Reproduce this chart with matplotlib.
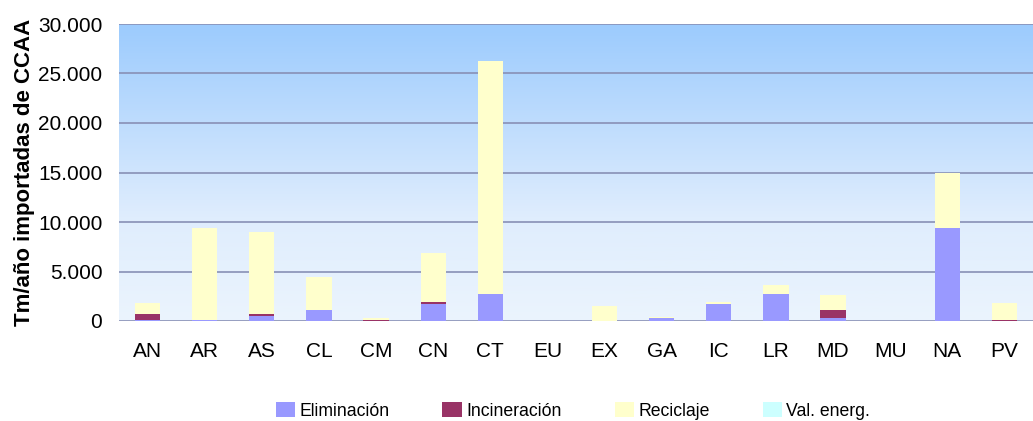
import matplotlib
matplotlib.use("Agg")
import matplotlib.pyplot as plt
import numpy as np
from matplotlib.colors import LinearSegmentedColormap
from matplotlib.ticker import FuncFormatter

categories = ["AN", "AR", "AS", "CL", "CM", "CN", "CT", "EU", "EX", "GA", "IC", "LR", "MD", "MU", "NA", "PV"]
eliminacion = [100, 150, 500, 1100, 0, 1750, 2750, 0, 0, 300, 1750, 2750, 300, 0, 9400, 0]
incineracion = [600, 0, 200, 0, 150, 170, 0, 0, 0, 0, 0, 0, 800, 0, 0, 150]
reciclaje = [1100, 9250, 8300, 3330, 200, 4930, 23550, 0, 1500, 150, 200, 880, 1520, 0, 5500, 1650]
val_energ = [0] * 16

series = [("Eliminación", eliminacion, "#9999ff"),
          ("Incineración", incineracion, "#993366"),
          ("Reciclaje", reciclaje, "#ffffcc"),
          ("Val. energ.", val_energ, "#ccffff")]

plt.rcParams["font.family"] = ["Liberation Sans", "DejaVu Sans"]

fig = plt.figure(figsize=(10.33, 4.21), dpi=100)
ax = fig.add_axes([119 / 1033, 100 / 421, (1033 - 119) / 1033, (321 - 24) / 421])

# gradient background
cmap = LinearSegmentedColormap.from_list(
    "bg", [(0.0, "#ebf4fd"), (0.35, "#dfedfd"), (1.0, "#9ccbfe")])
grad = np.linspace(0, 1, 256).reshape(-1, 1)
ax.imshow(grad, extent=[0, 1, 0, 1], transform=ax.transAxes, cmap=cmap,
          aspect="auto", origin="lower", zorder=0)

x = np.arange(len(categories))
bottom = np.zeros(len(categories))
handles = []
for name, vals, col in series:
    vals = np.array(vals, dtype=float)
    b = ax.bar(x, vals, width=0.44, bottom=bottom, color=col, label=name, zorder=3)
    handles.append(b)
    bottom += vals

ax.set_xlim(-0.5, len(categories) - 0.5)
ax.set_ylim(0, 30000)
ax.set_yticks(np.arange(0, 30001, 5000))
ax.yaxis.set_major_formatter(FuncFormatter(lambda v, p: f"{int(v):,}".replace(",", ".")))
ax.grid(axis="y", color="#8890b5", linewidth=1.2, zorder=1)
ax.set_axisbelow(True)
for s in ax.spines.values():
    s.set_visible(False)
ax.set_xticks(x)
ax.set_xticklabels(categories)
ax.tick_params(axis="x", length=0, pad=15, labelsize=15)
ax.tick_params(axis="y", length=0, pad=12, labelsize=15)
ax.set_ylabel("Tm/año importadas de CCAA", fontsize=16, fontweight="bold")
ax.yaxis.set_label_coords(-0.092, 0.5)

fig.legend(handles=handles, labels=[s[0] for s in series], loc="center",
           bbox_to_anchor=(573 / 1033, 1 - 411 / 421), ncol=4, frameon=False,
           fontsize=12.7, handlelength=1.1, handleheight=0.9, handletextpad=0.25,
           columnspacing=3.0, borderaxespad=0, borderpad=0)

fig.savefig("out.png", dpi=100)
